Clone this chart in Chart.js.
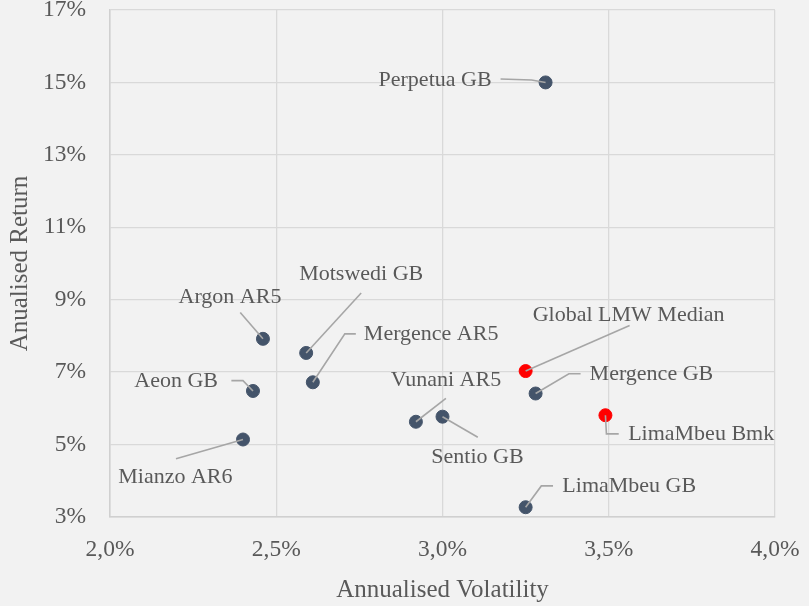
<!DOCTYPE html>
<html>
<head>
<meta charset="utf-8">
<script src="https://cdn.jsdelivr.net/npm/chart.js@4"></script>
<style>
  body { margin: 0; background: #F2F2F2; }
  #wrap { width: 809px; height: 606px; }
</style>
</head>
<body>
<div id="wrap"><canvas id="canvas"></canvas></div>
<script>
  // funds: name, annualised volatility (%), annualised return (%)
  var names = ['Perpetua GB', 'Argon AR5', 'Motswedi GB', 'Mergence AR5', 'Aeon GB', 'Mianzo AR6',
               'Vunani AR5', 'Sentio GB', 'Global LMW Median', 'Mergence GB', 'LimaMbeu Bmk', 'LimaMbeu GB'];
  var volatility = [3.31, 2.46, 2.59, 2.61, 2.43, 2.40, 2.92, 3.00, 3.25, 3.28, 3.49, 3.25];
  var returns = [15.0, 7.92, 7.53, 6.72, 6.48, 5.14, 5.63, 5.77, 7.03, 6.41, 5.81, 3.27];
  var isBenchmark = [false, false, false, false, false, false, false, false, true, false, true, false];

  var xTicks = [2.0, 2.5, 3.0, 3.5, 4.0];
  var yTicks = [3, 5, 7, 9, 11, 13, 15, 17];

  // label placement, pixel offsets from the point: text anchor + leader line
  var labelLayout = [
    { dx: -54, dy: -2, align: 'right', line: [[-45, -3.5], [-14, -2.5], [0, 0]] },
    { dx: -33, dy: -42, align: 'center', line: [[-22.7, -26.3], [0, 0]] },
    { dx: 55, dy: -79, align: 'center', line: [[55, -60], [0, 0]] },
    { dx: 51, dy: -48, align: 'left', line: [[0, 0], [32, -48.4], [43, -48.4]] },
    { dx: -35, dy: -9.6, align: 'right', line: [[-21.6, -10.3], [-10, -10.3], [0, 0]] },
    { dx: -67.6, dy: 38, align: 'center', line: [[-67, 19.3], [0, 0]] },
    { dx: 30, dy: -42, align: 'center', line: [[30, -23.3], [0, 0]] },
    { dx: 35, dy: 41, align: 'center', line: [[0, 0], [35.3, 20.6]] },
    { dx: 103, dy: -56, align: 'center', line: [[0, 0], [104, -45.6]] },
    { dx: 54, dy: -19, align: 'left', line: [[0, 0], [33.3, -19.7], [45, -19.7]] },
    { dx: 22.7, dy: 19.3, align: 'left', line: [[0, 0], [1, 18.6], [13.3, 18.6]] },
    { dx: 36.7, dy: -20.8, align: 'left', line: [[0, 0], [15.7, -21.3], [27.4, -21.3]] }
  ];

  var serif = "'Liberation Serif', 'DejaVu Serif', serif";
  var textColor = '#595959';

  var fundPoints = [];
  var bmkPoints = [];
  for (var i = 0; i < names.length; i++) {
    var p = { x: volatility[i], y: returns[i], idx: i };
    if (isBenchmark[i]) bmkPoints.push(p); else fundPoints.push(p);
  }

  // draws the data labels with their leader lines
  var pointLabels = {
    id: 'pointLabels',
    afterDatasetsDraw: function(chart) {
      var ctx = chart.ctx;
      var xs = chart.scales.x, ys = chart.scales.y;
      ctx.save();
      for (var i = 0; i < names.length; i++) {
        var px = xs.getPixelForValue(volatility[i]);
        var py = ys.getPixelForValue(returns[i]);
        var lay = labelLayout[i];
        ctx.beginPath();
        for (var k = 0; k < lay.line.length; k++) {
          var lx = px + lay.line[k][0], ly = py + lay.line[k][1];
          if (k === 0) ctx.moveTo(lx, ly); else ctx.lineTo(lx, ly);
        }
        ctx.strokeStyle = '#A6A6A6';
        ctx.lineWidth = 1.6;
        ctx.stroke();
        ctx.font = '22px ' + serif;
        ctx.fillStyle = textColor;
        ctx.textAlign = lay.align;
        ctx.textBaseline = 'middle';
        ctx.fillText(names[i], px + lay.dx, py + lay.dy);
      }
      ctx.restore();
    }
  };

  var ctx = document.getElementById('canvas').getContext('2d');
  window.myChart = new Chart(ctx, {
    type: 'scatter',
    data: {
      datasets: [
        { label: 'Funds', data: fundPoints, backgroundColor: '#44546A', borderColor: '#44546A',
          pointRadius: 6.5, pointHoverRadius: 6.5 },
        { label: 'Benchmarks', data: bmkPoints, backgroundColor: '#FF0000', borderColor: '#FF0000',
          pointRadius: 6.5, pointHoverRadius: 6.5 }
      ]
    },
    options: {
      responsive: true,
      maintainAspectRatio: false,
      animation: false,
      layout: { padding: { top: 10, right: 34, left: 0, bottom: 0 } },
      plugins: {
        legend: { display: false },
        tooltip: { enabled: false }
      },
      scales: {
        x: {
          type: 'linear',
          min: 2.0, max: 4.0,
          afterFit: function(scale) {
            scale.height = 89;
            scale.paddingLeft = 0;
            scale.paddingRight = 0;
          },
          afterBuildTicks: function(scale) { scale.ticks = xTicks.map(function(v) { return { value: v }; }); },
          ticks: {
            padding: 19,
            color: textColor,
            font: { family: serif, size: 23.5 },
            maxRotation: 0,
            callback: function(v) { return v.toFixed(1).replace('.', ',') + '%'; }
          },
          grid: { color: '#D9D9D9', lineWidth: 1.3, drawTicks: false },
          border: { color: '#D0D0D0', width: 1.5 },
          title: { display: true, text: 'Annualised Volatility', color: textColor,
                   font: { family: serif, size: 25 }, padding: { top: 0, bottom: 1 } }
        },
        y: {
          type: 'linear',
          min: 3, max: 17,
          afterFit: function(scale) {
            scale.width = 110;
            scale.paddingTop = 0;
            scale.paddingBottom = 0;
          },
          afterBuildTicks: function(scale) { scale.ticks = yTicks.map(function(v) { return { value: v }; }); },
          ticks: {
            padding: 24,
            color: textColor,
            font: { family: serif, size: 23.5 },
            callback: function(v) { return v + '%'; }
          },
          grid: { color: '#D9D9D9', lineWidth: 1.3, drawTicks: false },
          border: { color: '#D0D0D0', width: 1.5 },
          title: { display: true, text: 'Anualised Return', color: textColor,
                   font: { family: serif, size: 25 }, padding: { top: 5, bottom: 0 } }
        }
      }
    },
    plugins: [pointLabels]
  });
</script>
</body>
</html>
